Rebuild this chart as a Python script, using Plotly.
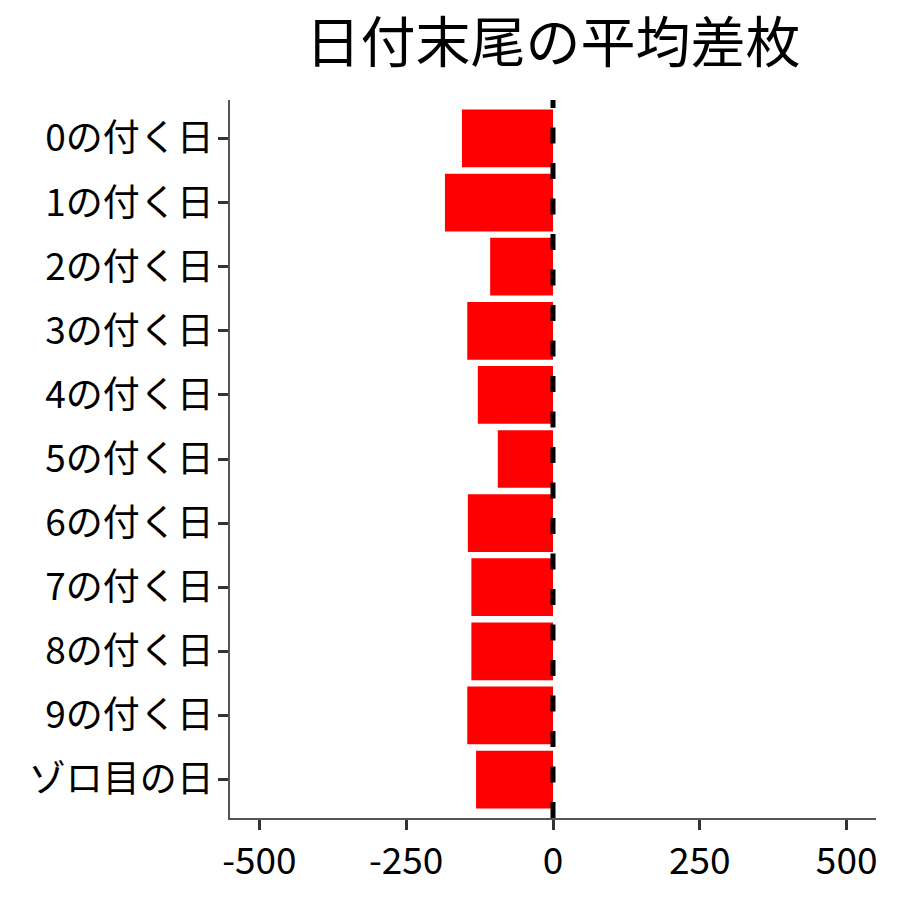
import plotly.graph_objects as go

categories = ['0の付く日', '1の付く日', '2の付く日', '3の付く日', '4の付く日',
              '5の付く日', '6の付く日', '7の付く日', '8の付く日', '9の付く日', 'ゾロ目の日']
avg_diff = [-155, -184, -107, -146, -128, -94, -145, -139, -139, -146, -131]
x_ticks = [-500, -250, 0, 250, 500]

font_name = 'Noto Sans CJK JP'

fig = go.Figure()

fig.add_trace(
    go.Bar(
        x=avg_diff
        , y=categories
        , orientation='h'
        , marker=dict(color='#ff0000', line=dict(width=0))
        , showlegend=False
    )
)

# dashed zero line (drawn from the bottom up)
fig.add_shape(
    type='line', xref='x', yref='paper'
    , x0=0, x1=0, y0=0, y1=1
    , line=dict(color='black', width=5, dash='16px,19.5px')
)

fig.update_layout(
    width=900, height=900
    , paper_bgcolor='white', plot_bgcolor='white'
    , margin=dict(l=222, r=32, t=92, b=90)
    , bargap=0.1
    , font=dict(family=font_name, color='black')
    , title=dict(
        text='日付末尾の平均差枚'
        , x=545 / 900, xanchor='center'
        , y=1 - 15 / 900, yanchor='top'
        , font=dict(size=55, family=font_name, color='black')
    )
    , xaxis=dict(
        range=[-550, 550]
        , tickvals=x_ticks
        , ticktext=[str(v) for v in x_ticks]
        , showgrid=False, zeroline=False
        , showline=True, linecolor='#555555', linewidth=1.5
        , ticks='outside', ticklen=10, tickwidth=3, tickcolor='#333333'
        , tickfont=dict(size=37, color='black')
    )
    , yaxis=dict(
        categoryorder='array', categoryarray=categories
        , range=[len(categories) - 0.4, -0.6]
        , showgrid=False, zeroline=False
        , showline=True, linecolor='#555555', linewidth=1.5
        , ticks='outside', ticklen=10, tickwidth=3, tickcolor='#333333'
        , ticklabelstandoff=-3
        , tickfont=dict(size=37, color='black')
    )
)

fig.write_html('out.html')
